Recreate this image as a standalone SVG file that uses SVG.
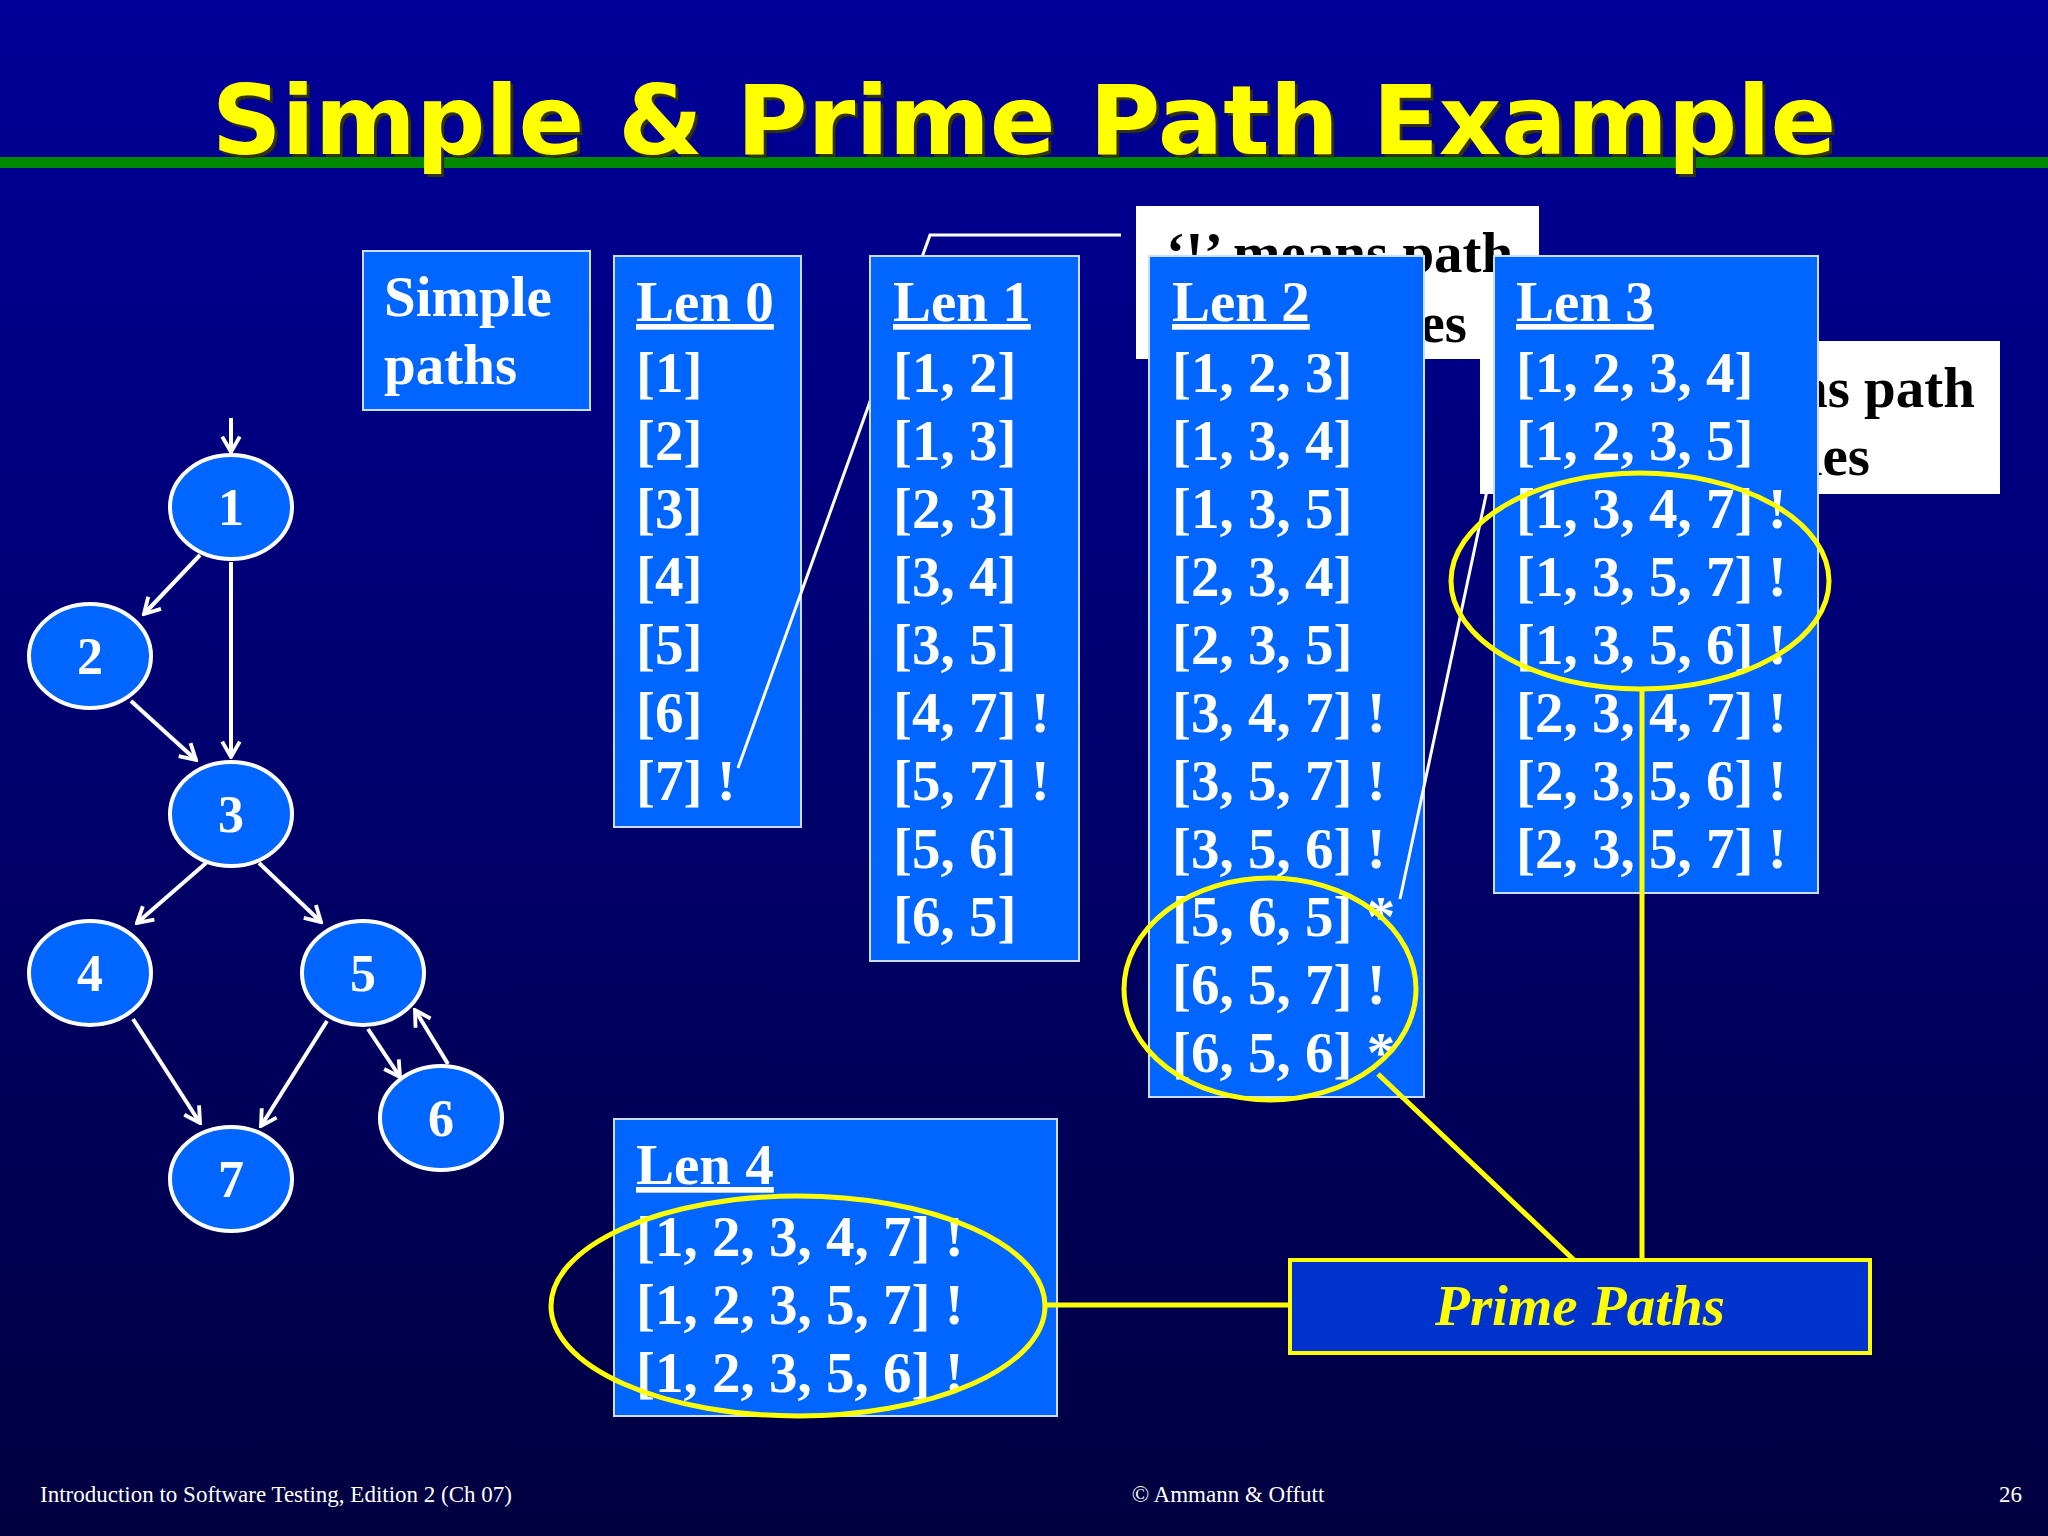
<svg xmlns="http://www.w3.org/2000/svg" width="2048" height="1536" viewBox="0 0 2048 1536">
<defs>
<linearGradient id="bg" x1="0" y1="0" x2="0" y2="1"><stop offset="0" stop-color="#000099"/><stop offset="1" stop-color="#000040"/></linearGradient>
<marker id="ar" viewBox="0 0 20 20" refX="18" refY="10" markerWidth="22" markerHeight="22" markerUnits="userSpaceOnUse" orient="auto"><polyline points="4,2 18,10 4,18" fill="none" stroke="#fff" stroke-width="3.5"/></marker>
</defs>
<style>
.box{fill:#0066ff;stroke:#ccddff;stroke-width:2}
.wbox{fill:#fff}
.t{font-family:"Liberation Serif",serif;font-weight:bold;font-size:57px;fill:#fff}
.h{text-decoration:underline}
.k{font-family:"Liberation Serif",serif;font-weight:bold;font-size:57px;fill:#000}
.node{fill:#0066ff;stroke:#fff;stroke-width:4}
.nt{font-family:"Liberation Serif",serif;font-weight:bold;font-size:52px;fill:#fff;text-anchor:middle}
.e{stroke:#fff;stroke-width:4;fill:none;marker-end:url(#ar)}
.y{fill:none;stroke:#ffff00;stroke-width:5}
.ft{font-family:"Liberation Serif",serif;font-size:23px;fill:#fff}
</style>
<rect width="2048" height="1536" fill="url(#bg)"/>
<rect x="0" y="157" width="2048" height="11" fill="#008800"/>
<text x="1027" y="157" text-anchor="middle" font-family="DejaVu Sans,sans-serif" font-weight="bold" font-size="97" fill="#333300">Simple &amp; Prime Path Example</text>
<text x="1024" y="154" text-anchor="middle" font-family="DejaVu Sans,sans-serif" font-weight="bold" font-size="97" fill="#ffff00">Simple &amp; Prime Path Example</text>

<g id="simple"><rect class="box" x="363" y="251" width="227" height="159"/>
<text class="t" x="384" y="316">Simple</text><text class="t" x="384" y="384">paths</text></g>

<g id="noteA"><rect class="wbox" x="1136" y="206" width="403" height="153"/>
<text class="k" x="1166" y="272">‘!’ means path</text><text class="k" x="1467" y="342" text-anchor="end">terminates</text></g>
<g id="noteB"><rect class="wbox" x="1480" y="341" width="520" height="153"/>
<text class="k" x="1975" y="407" text-anchor="end">‘*’ means path</text><text class="k" x="1870" y="475" text-anchor="end">cycles</text></g>

<g id="len0"><rect class="box" x="614" y="256" width="187" height="571"/>
<text class="t" x="636" y="321"><tspan class="h">Len 0</tspan></text>
<text class="t" x="636" y="392">[1]</text><text class="t" x="636" y="460">[2]</text><text class="t" x="636" y="528">[3]</text><text class="t" x="636" y="596">[4]</text><text class="t" x="636" y="664">[5]</text><text class="t" x="636" y="732">[6]</text><text class="t" x="636" y="800">[7] !</text></g>

<g id="connA"><polyline points="1121,235 930,235 738,768" fill="none" stroke="#fff" stroke-width="3"/></g>

<g id="len1"><rect class="box" x="870" y="256" width="209" height="705"/>
<text class="t" x="893" y="321"><tspan class="h">Len 1</tspan></text>
<text class="t" x="893" y="392">[1, 2]</text><text class="t" x="893" y="460">[1, 3]</text><text class="t" x="893" y="528">[2, 3]</text><text class="t" x="893" y="596">[3, 4]</text><text class="t" x="893" y="664">[3, 5]</text><text class="t" x="893" y="732">[4, 7] !</text><text class="t" x="893" y="800">[5, 7] !</text><text class="t" x="893" y="868">[5, 6]</text><text class="t" x="893" y="936">[6, 5]</text></g>

<g id="len2"><rect class="box" x="1149" y="256" width="275" height="841"/>
<text class="t" x="1172" y="321"><tspan class="h">Len 2</tspan></text>
<text class="t" x="1172" y="392">[1, 2, 3]</text><text class="t" x="1172" y="460">[1, 3, 4]</text><text class="t" x="1172" y="528">[1, 3, 5]</text><text class="t" x="1172" y="596">[2, 3, 4]</text><text class="t" x="1172" y="664">[2, 3, 5]</text><text class="t" x="1172" y="732">[3, 4, 7] !</text><text class="t" x="1172" y="800">[3, 5, 7] !</text><text class="t" x="1172" y="868">[3, 5, 6] !</text><text class="t" x="1172" y="936">[5, 6, 5] *</text><text class="t" x="1172" y="1004">[6, 5, 7] !</text><text class="t" x="1172" y="1072">[6, 5, 6] *</text></g>

<g id="connB"><line x1="1400" y1="899" x2="1508" y2="392" stroke="#fff" stroke-width="3"/></g>

<g id="len3"><rect class="box" x="1494" y="256" width="324" height="637"/>
<text class="t" x="1516" y="321"><tspan class="h">Len 3</tspan></text>
<text class="t" x="1516" y="392">[1, 2, 3, 4]</text><text class="t" x="1516" y="460">[1, 2, 3, 5]</text><text class="t" x="1516" y="528">[1, 3, 4, 7] !</text><text class="t" x="1516" y="596">[1, 3, 5, 7] !</text><text class="t" x="1516" y="664">[1, 3, 5, 6] !</text><text class="t" x="1516" y="732">[2, 3, 4, 7] !</text><text class="t" x="1516" y="800">[2, 3, 5, 6] !</text><text class="t" x="1516" y="868">[2, 3, 5, 7] !</text></g>

<g id="len4"><rect class="box" x="614" y="1119" width="443" height="297"/>
<text class="t" x="636" y="1184"><tspan class="h">Len 4</tspan></text>
<text class="t" x="636" y="1256">[1, 2, 3, 4, 7] !</text><text class="t" x="636" y="1324">[1, 2, 3, 5, 7] !</text><text class="t" x="636" y="1392">[1, 2, 3, 5, 6] !</text></g>

<g id="prime-links">
<ellipse class="y" cx="1640" cy="581" rx="189" ry="108"/>
<ellipse class="y" cx="1270" cy="989" rx="146" ry="111"/>
<ellipse class="y" cx="798" cy="1306" rx="247" ry="110"/>
<line class="y" x1="1046" y1="1305" x2="1290" y2="1305"/>
<line class="y" x1="1642" y1="690" x2="1642" y2="1260"/>
<line class="y" x1="1378" y1="1074" x2="1574" y2="1260"/>
</g>
<g id="prime"><rect x="1290" y="1260" width="580" height="93" fill="#0033cc" stroke="#ffff00" stroke-width="4"/>
<text x="1580" y="1325" text-anchor="middle" font-family="Liberation Serif,serif" font-weight="bold" font-style="italic" font-size="57" fill="#ffff00">Prime Paths</text></g>

<g id="edges">
<line class="e" x1="231" y1="418" x2="231" y2="452"/>
<line class="e" x1="200" y1="555" x2="144" y2="614"/>
<line class="e" x1="231" y1="562" x2="231" y2="757"/>
<line class="e" x1="131" y1="701" x2="196" y2="760"/>
<line class="e" x1="206" y1="863" x2="137" y2="923"/>
<line class="e" x1="259" y1="863" x2="321" y2="922"/>
<line class="e" x1="133" y1="1019" x2="200" y2="1123"/>
<line class="e" x1="327" y1="1021" x2="261" y2="1126"/>
<line class="e" x1="368" y1="1029" x2="400" y2="1077"/>
<line class="e" x1="448" y1="1064" x2="415" y2="1010"/>
</g>
<g id="n1"><ellipse class="node" cx="231" cy="507" rx="61" ry="52"/><text class="nt" x="231" y="525">1</text></g>
<g id="n2"><ellipse class="node" cx="90" cy="656" rx="61" ry="52"/><text class="nt" x="90" y="674">2</text></g>
<g id="n3"><ellipse class="node" cx="231" cy="814" rx="61" ry="52"/><text class="nt" x="231" y="832">3</text></g>
<g id="n4"><ellipse class="node" cx="90" cy="973" rx="61" ry="52"/><text class="nt" x="90" y="991">4</text></g>
<g id="n5"><ellipse class="node" cx="363" cy="973" rx="61" ry="52"/><text class="nt" x="363" y="991">5</text></g>
<g id="n6"><ellipse class="node" cx="441" cy="1118" rx="61" ry="52"/><text class="nt" x="441" y="1136">6</text></g>
<g id="n7"><ellipse class="node" cx="231" cy="1179" rx="61" ry="52" stroke-width="8"/><text class="nt" x="231" y="1197">7</text></g>

<text class="ft" x="40" y="1502">Introduction to Software Testing, Edition 2  (Ch 07)</text>
<text class="ft" x="1228" y="1502" text-anchor="middle">© Ammann &amp; Offutt</text>
<text class="ft" x="2022" y="1502" text-anchor="end">26</text>
</svg>
